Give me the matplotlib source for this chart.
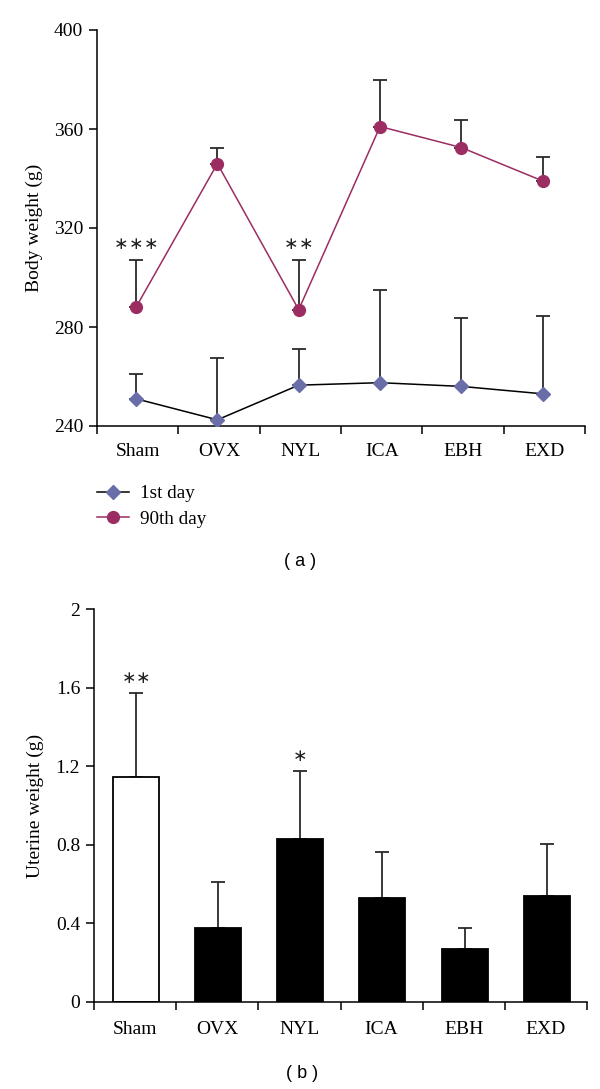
import matplotlib
matplotlib.use("Agg")
import matplotlib.pyplot as plt
import numpy as np

groups = ["Sham", "OVX", "NYL", "ICA", "EBH", "EXD"]

day1_mean = [251, 242.5, 256.5, 257.5, 256, 253]
day1_upper = [261, 267.5, 271, 295, 283.5, 284.5]
day90_mean = [288, 346, 287, 361, 352.5, 339]
day90_upper = [307, 352.5, 307, 380, 363.5, 348.5]
top_stars = {0: 3, 2: 2}

uterine_mean = [1.147, 0.378, 0.829, 0.528, 0.270, 0.538]
uterine_upper = [1.573, 0.610, 1.178, 0.765, 0.379, 0.803]
bottom_stars = {0: 2, 2: 1}

top_yticks = [240, 280, 320, 360, 400]
bottom_yticks = [0, 0.4, 0.8, 1.2, 1.6, 2]
bottom_yticklabels = ["0", "0.4", "0.8", "1.2", "1.6", "2"]

SERIF = ["Liberation Serif", "DejaVu Serif"]
SANS = ["Liberation Sans", "DejaVu Sans"]
plt.rcParams["font.family"] = SERIF
FS = 14

C_DAY1 = "#6a6ea8"
C_DAY90 = "#9b2d62"
C_ERR = "#2a2a2a"

fig = plt.figure(figsize=(6, 10.89), dpi=100)

def style_axis(ax, pad):
    ax.spines["top"].set_visible(False)
    ax.spines["right"].set_visible(False)
    for s in ("left", "bottom"):
        ax.spines[s].set_linewidth(1.1)
    ax.set_xlim(0, len(groups))
    ax.set_xticks(np.arange(len(groups) + 1))
    ax.set_xticklabels([])
    ax.set_xticks(np.arange(len(groups)) + 0.5, minor=True)
    ax.set_xticklabels(groups, minor=True, fontsize=FS)
    ax.tick_params(axis="x", which="major", direction="out", length=6, width=1.1)
    ax.tick_params(axis="x", which="minor", length=0, pad=pad)
    ax.tick_params(axis="y", direction="out", length=6, width=1.1, labelsize=FS, pad=4)

def stars(ax, xc, yc, n, dy, spacing=10.5):
    offs = (np.arange(n) - (n - 1) / 2) * spacing
    for o in offs:
        ax.annotate("\u2217", xy=(xc, yc), xytext=(o, dy), textcoords="offset points",
                    ha="center", va="center", fontsize=12.5, family=["DejaVu Sans"],
                    color="#222222")

x = np.arange(len(groups)) + 0.5

# ---- top panel ----
ax1 = fig.add_axes([97/600, 1-426/1089, 488/600, 396/1089])
style_axis(ax1, 12)
ax1.set_ylim(240, 400)
ax1.set_yticks(top_yticks)
ax1.set_ylabel("Body weight (g)", fontsize=FS, labelpad=8)

d1m = np.array(day1_mean); d1u = np.array(day1_upper)
d9m = np.array(day90_mean); d9u = np.array(day90_upper)
ax1.errorbar(x - 0.02, d1m, yerr=[np.zeros_like(d1m), d1u - d1m], fmt="none",
             ecolor=C_ERR, elinewidth=1.3, capsize=4.7, capthick=1.3, zorder=2)
ax1.errorbar(x - 0.02, d9m, yerr=[np.zeros_like(d9m), d9u - d9m], fmt="none",
             ecolor=C_ERR, elinewidth=1.3, capsize=4.7, capthick=1.3, zorder=2)
ax1.plot(x - 0.02, d1m, color="black", lw=1.1, marker="D", markersize=7.5,
         markerfacecolor=C_DAY1, markeredgecolor=C_DAY1, label="1st day", zorder=3)
ax1.plot(x - 0.02, d9m, color=C_DAY90, lw=1.1, marker="o", markersize=8.5,
         markerfacecolor=C_DAY90, markeredgecolor=C_DAY90, label="90th day", zorder=3)
for i, n in top_stars.items():
    stars(ax1, x[i] - 0.02, d9u[i], n, 11.5)

leg = ax1.legend(loc="upper left", bbox_to_anchor=(97/600, 1-485/1089),
                 bbox_transform=fig.transFigure, frameon=False, fontsize=13.75,
                 handlelength=1.65, handletextpad=0.6, labelspacing=0.42,
                 borderpad=0, borderaxespad=0)
fig.text(0.5, 1-562/1089, "( a )", ha="center", va="center", fontsize=13, family=SANS)

# ---- bottom panel ----
ax2 = fig.add_axes([94/600, 1-1002/1089, 493/600, 393/1089])
style_axis(ax2, 14)
ax2.set_ylim(0, 2)
ax2.set_yticks(bottom_yticks)
ax2.set_yticklabels(bottom_yticklabels)
ax2.set_ylabel("Uterine weight (g)", fontsize=FS, labelpad=8)

um = np.array(uterine_mean); uu = np.array(uterine_upper)
faces = ["white"] + ["black"] * (len(groups) - 1)
ax2.errorbar(x + 0.01, um, yerr=[np.zeros_like(um), uu - um], fmt="none",
             ecolor=C_ERR, elinewidth=1.3, capsize=4.7, capthick=1.3, zorder=1)
ax2.bar(x + 0.01, um, width=0.56, color=faces, edgecolor="black", linewidth=1.3, zorder=2)
for i, n in bottom_stars.items():
    stars(ax2, x[i] + 0.01, uu[i], n, 10.5)

fig.text(0.503, 1-1073/1089, "( b )", ha="center", va="center", fontsize=13, family=SANS)

fig.savefig("out.png", dpi=100)
